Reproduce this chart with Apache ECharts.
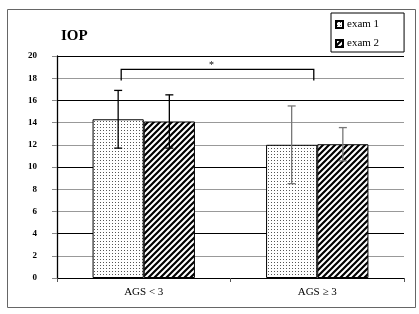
<!DOCTYPE html>
<html>
<head>
<meta charset="utf-8">
<script src="https://cdn.jsdelivr.net/npm/echarts@6/dist/echarts.min.js"></script>
<style>
  html, body { margin: 0; padding: 0; background: #fff; }
  #chart { width: 419px; height: 314px; }
</style>
</head>
<body>
<div id="chart"></div>
<script>
// data
const categories = ['AGS < 3', 'AGS \u2265 3'];
const seriesNames = ['exam 1', 'exam 2'];
const exam1 = [14.3, 12.0];
const exam2 = [14.1, 12.05];
const exam1Sd = [2.6, 3.5];
const exam2Sd = [2.4, 1.5];
// significance bracket: [from category, to category, top value, foot value]
const bracket = [0, 1, 18.8, 17.8];

const serif = '"Liberation Serif", "DejaVu Serif", serif';

// patterns for the bars
function dotPattern() {
  const c = document.createElement('canvas');
  c.width = 3; c.height = 3;
  const ctx = c.getContext('2d');
  ctx.fillStyle = '#fff';
  ctx.fillRect(0, 0, 3, 3);
  ctx.fillStyle = '#555';
  ctx.fillRect(1, 1, 1, 1);
  return c;
}
function hatchPattern() {
  const s = 6;
  const c = document.createElement('canvas');
  c.width = s; c.height = s;
  const ctx = c.getContext('2d');
  ctx.fillStyle = '#fff';
  ctx.fillRect(0, 0, s, s);
  ctx.strokeStyle = '#000';
  ctx.lineWidth = 2.2;
  ctx.beginPath();
  ctx.moveTo(-1, s + 1); ctx.lineTo(s + 1, -1);
  ctx.moveTo(-1, 1); ctx.lineTo(1, -1);
  ctx.moveTo(s - 1, s + 1); ctx.lineTo(s + 1, s - 1);
  ctx.stroke();
  return c;
}

const myChart = echarts.init(document.getElementById('chart'));

const barWidthRatio = 0.295;
const errColors = ['#000', '#777'];

// error bars drawn around each bar centre
function errorRender(means, sds, side) {
  return function (params, api) {
    const i = api.value(0);
    const band = api.size([1, 0])[0];
    const cx = api.coord([i, 0])[0] + side * band * barWidthRatio / 2;
    const top = api.coord([i, means[i] + sds[i]])[1];
    const bot = api.coord([i, means[i] - sds[i]])[1];
    const cap = 4;
    const style = { stroke: errColors[i], lineWidth: 1.3 };
    return {
      type: 'group',
      children: [
        { type: 'line', shape: { x1: cx, y1: top, x2: cx, y2: bot }, style },
        { type: 'line', shape: { x1: cx - cap, y1: top, x2: cx + cap, y2: top }, style },
        { type: 'line', shape: { x1: cx - cap, y1: bot, x2: cx + cap, y2: bot }, style }
      ]
    };
  };
}

const option = {
  animation: false,
  title: {
    text: 'IOP',
    left: 56,
    top: 24,
    textStyle: { fontFamily: serif, fontWeight: 'bold', fontSize: 15, color: '#000' }
  },
  legend: {
    data: seriesNames,
    orient: 'vertical',
    left: 331,
    top: 13,
    padding: [6, 25, 3, 4],
    itemGap: 8,
    itemWidth: 7,
    itemHeight: 7,
    backgroundColor: '#fff',
    borderColor: '#000',
    borderWidth: 1,
    borderRadius: 0,
    icon: 'rect',
    textStyle: { fontFamily: serif, fontSize: 11, color: '#000', padding: [0, 0, 0, -1] }
  },
  grid: { left: 57, right: 15, top: 56, bottom: 36 },
  xAxis: {
    type: 'category',
    data: categories,
    axisLine: { lineStyle: { color: '#000', width: 1 } },
    axisTick: { show: true, length: 4, lineStyle: { color: '#555' } },
    axisLabel: { fontFamily: serif, fontSize: 11, color: '#000', margin: 9 }
  },
  yAxis: {
    type: 'value',
    min: 0,
    max: 20,
    interval: 2,
    axisLine: { show: true, lineStyle: { color: '#000', width: 1.3 } },
    axisTick: { show: true, inside: false, length: 5, lineStyle: { color: '#888' } },
    axisLabel: { fontFamily: serif, fontWeight: 'bold', fontSize: 9, color: '#000', margin: 20 },
    splitLine: {
      show: true,
      lineStyle: {
        color: ['#000', '#999', '#000', '#999', '#999', '#000', '#999', '#999', '#000', '#999', '#000'],
        width: 1.2
      }
    }
  },
  series: [
    {
      name: seriesNames[0],
      type: 'bar',
      data: exam1,
      barWidth: (barWidthRatio * 100) + '%',
      barGap: '0%',
      itemStyle: { color: { image: dotPattern(), repeat: 'repeat' }, borderColor: '#000', borderWidth: 1 }
    },
    {
      name: seriesNames[1],
      type: 'bar',
      data: exam2,
      barWidth: (barWidthRatio * 100) + '%',
      barGap: '0%',
      itemStyle: { color: { image: hatchPattern(), repeat: 'repeat' }, borderColor: '#000', borderWidth: 1 }
    },
    {
      type: 'custom',
      name: 'err1',
      renderItem: errorRender(exam1, exam1Sd, -1),
      data: categories.map((c, i) => [i]),
      z: 5,
      silent: true
    },
    {
      type: 'custom',
      name: 'err2',
      renderItem: errorRender(exam2, exam2Sd, 1),
      data: categories.map((c, i) => [i]),
      z: 5,
      silent: true
    },
    {
      type: 'custom',
      name: 'sig',
      data: [bracket],
      z: 6,
      silent: true,
      renderItem: function (params, api) {
        const band = api.size([1, 0])[0];
        const x1 = api.coord([api.value(0), 0])[0] - band * 0.13;
        const x2 = api.coord([api.value(1), 0])[0] - band * 0.02;
        const yTop = api.coord([0, api.value(2)])[1];
        const yFoot = api.coord([0, api.value(3)])[1];
        const style = { stroke: '#000', lineWidth: 1.3, fill: null };
        return {
          type: 'group',
          children: [
            { type: 'polyline', shape: { points: [[x1, yFoot], [x1, yTop], [x2, yTop], [x2, yFoot]] }, style },
            {
              type: 'text',
              style: {
                text: '*', x: (x1 + x2) / 2 - 6, y: yTop + 1,
                fill: '#000', font: '10px ' + serif,
                textAlign: 'center', textVerticalAlign: 'bottom'
              }
            }
          ]
        };
      }
    }
  ],
  graphic: [
    {
      type: 'rect',
      left: 5,
      top: 7,
      shape: { width: 408, height: 298 },
      style: { fill: null, stroke: '#666', lineWidth: 1 },
      silent: true
    }
  ]
};

myChart.setOption(option);
</script>
</body>
</html>
